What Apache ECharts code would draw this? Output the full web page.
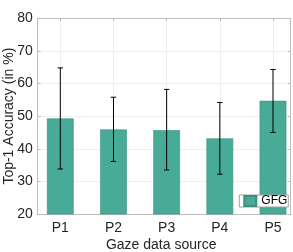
<!DOCTYPE html>
<html>
<head>
<meta charset="utf-8">
<script src="https://cdn.jsdelivr.net/npm/echarts@6/dist/echarts.min.js"></script>
<style>html,body{margin:0;padding:0;background:#fff}#c{width:293px;height:252px}</style>
</head>
<body>
<div id="c"></div>
<script>
const categories = ['P1', 'P2', 'P3', 'P4', 'P5'];
const positions = [1, 2, 3, 4, 5];
const means = [49.3, 45.9, 45.7, 43.2, 54.7];
const errLow = [33.8, 36.1, 33.5, 32.2, 45.0];
const errHigh = [64.8, 55.8, 58.2, 54.2, 64.3];
const seriesName = 'GFG';

const FONT = '"Liberation Sans", Arial, Helvetica, sans-serif';
const frame = '#bdbdbd';
const txt = '#262626';
const chart = echarts.init(document.getElementById('c'), null, {renderer: 'canvas'});

const barData = positions.map((p, i) => [p, means[i]]);
const errData = positions.map((p, i) => [p, errLow[i], errHigh[i]]);

const xCommon = {
  type: 'value', min: 0.575, max: 5.333, gridIndex: 0
};

chart.setOption({
  animation: false,
  textStyle: {fontFamily: FONT},
  grid: {left: 37.7, right: 2.3, top: 18.3, bottom: 38, containLabel: false, outerBoundsMode: 'none'},
  xAxis: [
    Object.assign({}, xCommon, {
      position: 'bottom',
      name: 'Gaze data source', nameLocation: 'middle', nameGap: 24, nameMoveOverlap: false,
      nameTextStyle: {fontSize: 14, color: txt, fontFamily: FONT, padding: [0, 6, 0, 0]},
      axisLine: {show: true, lineStyle: {color: frame, width: 1}},
      axisTick: {show: true, inside: true, length: 3, lineStyle: {color: frame}},
      axisLabel: {
        color: txt, fontSize: 14, fontFamily: FONT, margin: 7,
        showMinLabel: false, showMaxLabel: false,
        formatter: v => (Number.isInteger(v) && v >= 1 && v <= categories.length) ? categories[v - 1] : ''
      },
      splitLine: {show: true, lineStyle: {color: '#efefef', width: 1}}
    }),
    Object.assign({}, xCommon, {
      position: 'top',
      axisLine: {show: true, lineStyle: {color: frame, width: 1}},
      axisTick: {show: true, inside: true, length: 3, lineStyle: {color: frame}},
      axisLabel: {show: false},
      splitLine: {show: false}
    })
  ],
  yAxis: [
    {
      type: 'value', min: 20, max: 80, interval: 10, position: 'left',
      name: 'Top-1 Accuracy (in %)', nameLocation: 'middle', nameGap: 22, nameMoveOverlap: false,
      nameTextStyle: {fontSize: 14, color: txt, fontFamily: FONT},
      axisLine: {show: true, lineStyle: {color: frame, width: 1}},
      axisTick: {show: true, inside: true, length: 3, lineStyle: {color: frame}},
      axisLabel: {color: txt, fontSize: 14, fontFamily: FONT, margin: 5},
      splitLine: {show: true, lineStyle: {color: '#efefef', width: 1}}
    },
    {
      type: 'value', min: 20, max: 80, interval: 10, position: 'right',
      axisLine: {show: true, lineStyle: {color: frame, width: 1}},
      axisTick: {show: true, inside: true, length: 3, lineStyle: {color: frame}},
      axisLabel: {show: false},
      splitLine: {show: false}
    }
  ],
  legend: {
    data: [seriesName],
    right: 4.7, bottom: 45,
    orient: 'vertical',
    itemWidth: 12, itemHeight: 10, itemGap: 2,
    padding: [0, 1, 0, 4],
    backgroundColor: '#fff',
    borderColor: '#a0a0a0', borderWidth: 1, borderRadius: 0,
    textStyle: {fontSize: 12, color: '#000', fontFamily: FONT},
    icon: 'rect'
  },
  series: [
    {
      name: seriesName, type: 'bar', xAxisIndex: 0, yAxisIndex: 0,
      data: barData, barWidth: 26.7,
      itemStyle: {color: '#48ab97', borderColor: '#3a8f7e', borderWidth: 0.6},
      z: 2
    },
    {
      name: 'err', type: 'custom', xAxisIndex: 0, yAxisIndex: 0,
      data: errData, z: 3,
      renderItem: function (params, api) {
        const x = api.value(0);
        const lo = api.coord([x, api.value(1)]);
        const hi = api.coord([x, api.value(2)]);
        const cap = 2.7;
        const st = {stroke: '#000', lineWidth: 1};
        return {
          type: 'group',
          children: [
            {type: 'line', shape: {x1: lo[0], y1: lo[1], x2: hi[0], y2: hi[1]}, style: st},
            {type: 'line', shape: {x1: lo[0] - cap, y1: lo[1], x2: lo[0] + cap, y2: lo[1]}, style: st},
            {type: 'line', shape: {x1: hi[0] - cap, y1: hi[1], x2: hi[0] + cap, y2: hi[1]}, style: st}
          ]
        };
      }
    }
  ]
});
</script>
</body>
</html>
